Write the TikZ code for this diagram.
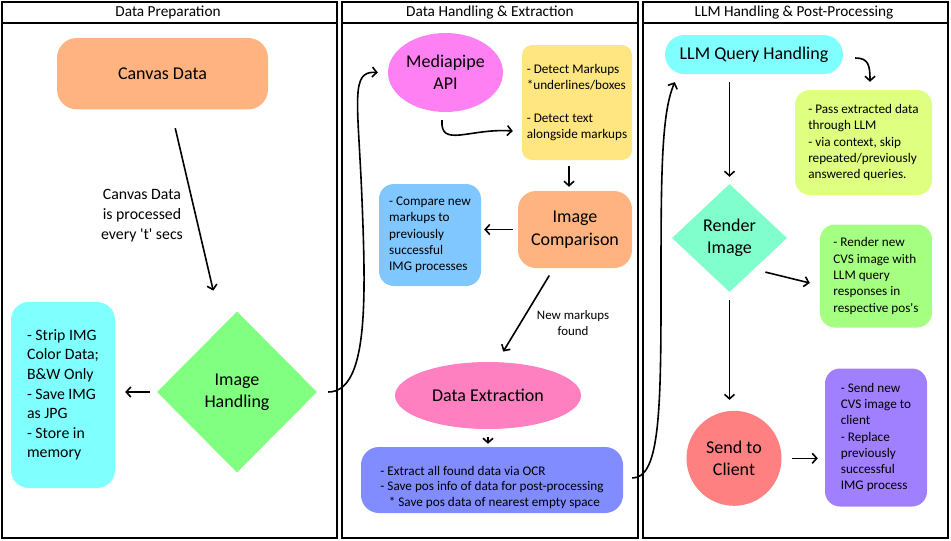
\documentclass[tikz,border=0pt]{standalone}
\usepackage{fontspec}
\setmainfont{Carlito}
\usepackage{xcolor}
\usepackage{tikz}
\usetikzlibrary{shapes.geometric, arrows.meta, positioning}
\definecolor{peach}{HTML}{FFB380}
\definecolor{mint}{HTML}{80FF80}
\definecolor{aqua}{HTML}{80FFFF}
\definecolor{orchid}{HTML}{FF80F2}
\definecolor{butter}{HTML}{FFE680}
\definecolor{sky}{HTML}{80C6FF}
\definecolor{rose}{HTML}{FF80C0}
\definecolor{periwinkle}{HTML}{808CFF}
\definecolor{lime}{HTML}{DFFF80}
\definecolor{seafoam}{HTML}{80FFCC}
\definecolor{leaf}{HTML}{A5FF80}
\definecolor{salmon}{HTML}{FF8080}
\definecolor{lavender}{HTML}{A080FF}
\newcommand{\titlefont}{\fontsize{18}{22.4}\selectfont}
\newcommand{\notefont}{\fontsize{13.2}{16.3}\selectfont}
\newcommand{\midfont}{\fontsize{15.8}{19.6}\selectfont}
\newcommand{\q}{\textquotesingle}

\begin{document}
\begin{tikzpicture}
  [
    x=1pt, y=-1pt,
    >={Straight Barb[length=4.5pt, width=10pt]},
    Lane/.style={draw=black, line width=2.2pt},
    Header/.style={inner sep=0pt, font=\fontsize{15.3}{18}\selectfont},
    Box/.style={rectangle, rounded corners=15pt, inner sep=0pt, align=left, font=\notefont},
    Title/.style={rectangle, inner sep=0pt, align=center, font=\titlefont},
    Diamond/.style={diamond, inner sep=0pt, align=center, font=\titlefont},
    Oval/.style={ellipse, inner sep=0pt, align=center, font=\titlefont},
    Note/.style={inner sep=0pt, align=center},
    Link/.style={->, draw, line width=1.6pt}
  ]
  \useasboundingbox (0,0) rectangle (951,541);
  % Lanes
  \draw[Lane] (2,2) rectangle (337,538);
  \draw[Lane, line width=1.6pt] (2,23) -- (337,23);
  \draw[Lane] (342,2) rectangle (638,538);
  \draw[Lane, line width=1.6pt] (342,23) -- (638,23);
  \draw[Lane] (643,2) rectangle (948,538);
  \draw[Lane, line width=1.6pt] (643,23) -- (948,23);
  \node[Header] (hprep) at (168,12.5) {Data Preparation};
  \node[Header] (hextr) at (490,12.5) {Data Handling \& Extraction};
  \node[Header] (hpost) at (794,12.5) {LLM Handling \& Post-Processing};
  % Nodes
  \node[Title, fill=peach, rounded corners=20pt, minimum width=211pt, minimum height=71.5pt] (canvas) at (162.5,73.7) {Canvas Data};
  \node[Diamond, fill=mint, minimum width=160pt, minimum height=161pt] (imghand) at (237,392) {Image\\Handling};
  \node[Box, fill=aqua, rounded corners=18pt, minimum width=104pt, minimum height=186pt, font=\midfont] (strip) at (63,395)
    {- Strip IMG\\Color Data;\\B\&W Only\\- Save IMG\\as JPG\\- Store in\\memory};
  \node[Note, font=\midfont] (every) at (142,215.6) {Canvas Data\\is processed\\every \q t\q{} secs};
  \node[Oval, fill=orchid, minimum width=115pt, minimum height=79pt] (mediapipe) at (445.5,72.5) {Mediapipe\\API};
  \node[Box, fill=butter, rounded corners=10pt, minimum width=110pt, minimum height=115pt] (detect) at (577,102.5)
    {- Detect Markups\\*underlines/boxes\\[16.3pt]- Detect text\\alongside markups};
  \node[Title, fill=peach, rounded corners=18pt, minimum width=114pt, minimum height=77pt] (compare) at (575,229.5) {Image\\Comparison};
  \node[Box, fill=sky, minimum width=102pt, minimum height=102pt] (prevproc) at (430,235)
    {- Compare new\\markups to\\previously\\successful\\IMG processes};
  \node[Note, font=\fontsize{12.9}{16}\selectfont] (newmark) at (573,323) {New markups\\found};
  \node[Oval, fill=rose, minimum width=186pt, minimum height=67pt] (extract) at (488,395.5) {Data Extraction};
  \node[Box, fill=periwinkle, rounded corners=18pt, minimum width=262pt, minimum height=66pt] (ocr) at (492,480)
    {\raisebox{0pt}[\dimexpr\height+15pt\relax]{\begin{tabular}{@{}l@{}}- Extract all found data via OCR\\[-0.6pt]- Save pos info of data for post-processing\\[-0.6pt]\hspace*{8.4pt}* Save pos data of nearest empty space\end{tabular}}};
  \node[Title, fill=aqua, rounded corners=19.5pt, minimum width=178pt, minimum height=39pt] (llmquery) at (754,54.5) {LLM Query Handling};
  \node[Box, fill=lime, minimum width=137pt, minimum height=105pt] (passllm) at (863.5,142.5)
    {- Pass extracted data\\through LLM\\- via context, skip\\repeated/previously\\answered queries.};
  \node[Diamond, fill=seafoam, minimum width=115pt, minimum height=108pt] (render) at (729.5,238) {Render\\Image};
  \node[Box, fill=leaf, minimum width=112pt, minimum height=103pt] (newcvs) at (876,276)
    {- Render new\\CVS image with\\LLM query\\responses in\\respective pos\q s};
  \node[Oval, circle, fill=salmon, minimum size=95pt] (sendcl) at (734,458.3) {Send to\\Client};
  \node[Box, fill=lavender, minimum width=102pt, minimum height=138pt] (replace) at (876,437.5)
    {- Send new\\CVS image to\\client\\- Replace\\previously\\successful\\IMG process};
  \coordinate (bendA) at (362,200);
  \coordinate (bendB) at (661,300);
  % Lines
  \path [Link, shorten <=19pt, shorten >=37pt] (canvas) -- (imghand);
  \path [Link, shorten <=7pt, shorten >=10pt] (imghand.west) -- (imghand.west -| strip.east);
  \path [Link] ([xshift=11pt]imghand.east) .. controls +(40,0) and +(4,100) .. (bendA)
    .. controls +(-4,-100) and +(-28,-2) .. ([xshift=-10pt]mediapipe.west);
  \path [Link] ([xshift=-3.5pt, yshift=-8pt]mediapipe.south) .. controls +(-2,28) and +(-43,-3) .. ([xshift=-9pt, yshift=-28.5pt]detect.west);
  \path [Link, shorten <=6pt, shorten >=4pt] ([xshift=-8pt]detect.south) -- ([xshift=-8pt]detect.south |- compare.north);
  \path [Link, shorten <=5pt, shorten >=3pt] (compare.west) -- (compare.west -| prevproc.east);
  \path [Link, shorten <=8.5pt, shorten >=12pt] ([xshift=-21.3pt]compare.south) -- ([xshift=9pt]extract.north);
  \path [Link, shorten <=7.7pt, shorten >=3pt] (extract.south) -- (extract.south |- ocr.north);
  \path [Link] ([xshift=9pt, yshift=2pt]ocr.east) .. controls +(26,0) and +(0,120) .. (bendB)
    .. controls +(0,-120) and +(-14,32) .. ([xshift=10pt, yshift=-8pt]llmquery.south west);
  \path [Link] ([xshift=12pt, yshift=-3.5pt]llmquery.east) .. controls +(13,0) and +(0,-17) .. ([xshift=6.5pt, yshift=8pt]passllm.north);
  \path [Link, shorten <=8pt, shorten >=7pt] (render.north |- llmquery.south) -- (render.north);
  \path [Link] ([xshift=7pt, yshift=-7pt]render.south east) -- ([xshift=-10pt, yshift=-7pt]newcvs.west);
  \path [Link, shorten <=8pt, shorten >=10.7pt] (render.south) -- (render.south |- sendcl.north);
  \path [Link, shorten <=10pt, shorten >=7pt] (sendcl.east) -- (sendcl.east -| replace.west);
\end{tikzpicture}
\end{document}
